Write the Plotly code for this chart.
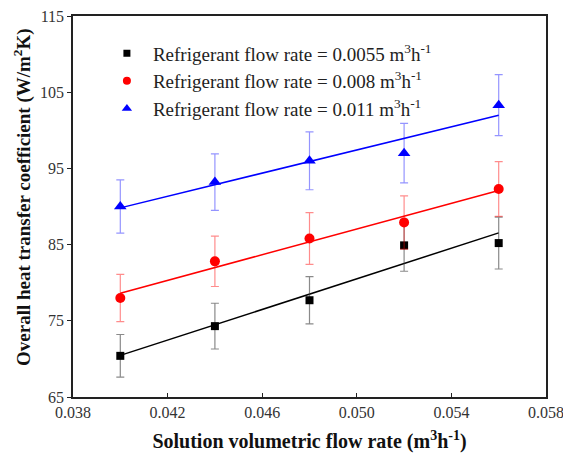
import numpy as np
import plotly.graph_objects as go

# ---- data ----
solution_flow = [0.040, 0.044, 0.048, 0.052, 0.056]

series_names = [
    "Refrigerant flow rate = 0.0055 m<sup>3</sup>h<sup>-1</sup>",
    "Refrigerant flow rate = 0.008 m<sup>3</sup>h<sup>-1</sup>",
    "Refrigerant flow rate = 0.011 m<sup>3</sup>h<sup>-1</sup>",
]
u_0055 = [70.4, 74.3, 77.7, 84.9, 85.2]
err_0055 = [2.8, 3.0, 3.1, 3.4, 3.4]
u_008 = [78.0, 82.8, 85.8, 87.9, 92.3]
err_008 = [3.1, 3.3, 3.4, 3.5, 3.6]
u_011 = [90.0, 93.2, 96.0, 97.0, 103.3]
err_011 = [3.5, 3.7, 3.8, 3.9, 4.0]

x_ticks = [0.038, 0.042, 0.046, 0.050, 0.054, 0.058]
y_ticks = [65, 75, 85, 95, 105, 115]

x_title = "<b>Solution volumetric flow rate (m<sup>3</sup>h<sup>-1</sup>)</b>"
y_title = "<b>Overall heat transfer coefficient (W/m<sup>2</sup>K)</b>"

FONT = "Liberation Serif"

styles = [
    dict(color="black", err="rgba(60,60,60,0.6)", symbol="square", size=8, lsize=7),
    dict(color="#ff0000", err="rgba(255,0,0,0.45)", symbol="circle", size=10, lsize=8),
    dict(color="#0000ff", err="rgba(0,0,255,0.42)", symbol="triangle-up", size=11, lsize=9),
]
ys = [u_0055, u_008, u_011]
errs = [err_0055, err_008, err_011]

fig = go.Figure()
x = np.array(solution_flow)
for name, y, e, st in zip(series_names, ys, errs, styles):
    k, b = np.polyfit(x, np.array(y), 1)
    xf = np.array([x.min(), x.max()])
    fig.add_trace(go.Scatter(
        x=xf, y=k * xf + b, mode="lines",
        line=dict(color=st["color"], width=1.5),
        showlegend=False, hoverinfo="skip"))
    fig.add_trace(go.Scatter(
        x=solution_flow, y=y, mode="markers",
        marker=dict(color=st["color"], symbol=st["symbol"], size=st["size"]),
        error_y=dict(type="data", array=e, color=st["err"], thickness=1.2, width=4),
        showlegend=False))
for name, st in zip(series_names, styles):
    fig.add_trace(go.Scatter(
        x=[None], y=[None], mode="markers", name=name,
        marker=dict(color=st["color"], symbol=st["symbol"], size=st["lsize"])))

axis_common = dict(
    showline=True, linecolor="#222", linewidth=1.5, mirror=True,
    showgrid=False, zeroline=False, ticklen=4,
    tickwidth=1.2, tickcolor="#222", automargin=False,
    ticklabeloverflow="allow",
    tickfont=dict(family=FONT, size=16, color="#333"),
)

fig.update_layout(
    width=563, height=453,
    margin=dict(l=73, r=17, t=16, b=56),
    paper_bgcolor="white", plot_bgcolor="white",
    font=dict(family=FONT, color="#222"),
    xaxis=dict(
        range=[0.038, 0.058], tickvals=x_ticks,
        ticktext=[f"{v:.3f}" for v in x_ticks],
        ticks="inside",
        title=dict(text=x_title, font=dict(family=FONT, size=20, color="#111")),
        **axis_common,
    ),
    yaxis=dict(
        range=[65, 115], tickvals=y_ticks, ticks="outside",
        **axis_common,
    ),
    annotations=[dict(
        text=y_title, textangle=-90, showarrow=False,
        xref="paper", yref="paper",
        x=(22 - 73) / 473, y=(397 - 197) / 381,
        xanchor="center", yanchor="middle",
        font=dict(family=FONT, size=19, color="#111"),
    )],
    legend=dict(
        x=0.059, y=0.952, xanchor="left", yanchor="top",
        bgcolor="rgba(0,0,0,0)", borderwidth=0,
        font=dict(family=FONT, size=19, color="#222"),
        tracegroupgap=0, itemwidth=42,
    ),
)

fig.write_html("out.html", config={"displayModeBar": False},
               post_script="document.body.style.margin='0';")
